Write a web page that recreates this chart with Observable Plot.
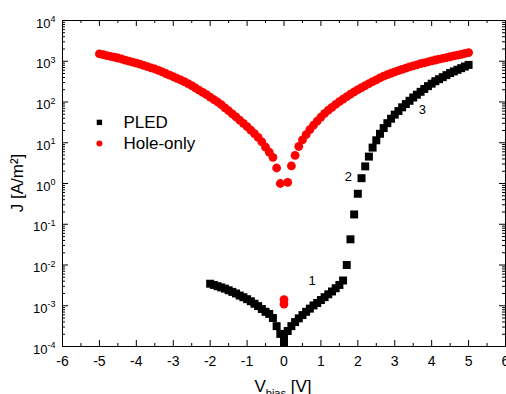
<!DOCTYPE html>
<html>
<head>
<meta charset="utf-8">
<script src="https://cdn.jsdelivr.net/npm/d3@7"></script>
<script src="https://cdn.jsdelivr.net/npm/@observablehq/plot@0.6"></script>
<style>
  html, body { margin: 0; padding: 0; background: #fff; }
  #chart { width: 506px; height: 394px; overflow: hidden; }
</style>
</head>
<body>
<div id="chart"></div>
<script>
// Current density vs bias voltage: PLED and hole-only devices

// PLED sweep, bias [V]
const pledV = [
  -2.0, -1.9, -1.8, -1.7, -1.6, -1.5, -1.4, -1.3, -1.2, -1.1,
  -1.0, -0.9, -0.8, -0.7, -0.6, -0.5, -0.4, -0.3, -0.2, -0.1,
  0.0, 0.0,
  0.1, 0.2, 0.3, 0.4, 0.5, 0.6, 0.7, 0.8, 0.9, 1.0,
  1.1, 1.2, 1.3, 1.4, 1.5, 1.6, 1.7, 1.8, 1.9, 2.0,
  2.1, 2.2, 2.3, 2.4, 2.5, 2.6, 2.7, 2.8, 2.9, 3.0,
  3.1, 3.2, 3.3, 3.4, 3.5, 3.6, 3.7, 3.8, 3.9, 4.0,
  4.1, 4.2, 4.3, 4.4, 4.5, 4.6, 4.7, 4.8, 4.9, 5.0
];
// PLED current density [A/m²]
const pledJ = [
  3.47e-3, 3.24e-3, 3.02e-3, 2.82e-3, 2.63e-3, 2.40e-3, 2.19e-3, 2.00e-3, 1.78e-3, 1.62e-3,
  1.45e-3, 1.29e-3, 1.12e-3, 9.8e-4, 8.3e-4, 7.1e-4, 6.3e-4, 5.0e-4, 3.16e-4, 2.04e-4,
  1.29e-4, 1.95e-4,
  2.40e-4, 3.16e-4, 3.98e-4, 4.9e-4, 5.9e-4, 7.1e-4, 8.5e-4, 1.02e-3, 1.17e-3, 1.38e-3,
  1.62e-3, 1.91e-3, 2.24e-3, 2.69e-3, 3.24e-3, 4.17e-3, 1.0e-2, 4.27e-2, 0.174, 0.56,
  1.35, 2.63, 4.57, 7.6, 11.5, 16.6, 22.9, 30.2, 38.9, 49,
  60, 74, 89, 107, 129, 151, 178, 209, 245, 282,
  324, 363, 407, 457, 513, 562, 617, 676, 741, 813
];

// Hole-only sweep, bias [V]
const holeV = [
  -5.0, -4.9, -4.8, -4.7, -4.6, -4.5, -4.4, -4.3, -4.2, -4.1,
  -4.0, -3.9, -3.8, -3.7, -3.6, -3.5, -3.4, -3.3, -3.2, -3.1,
  -3.0, -2.9, -2.8, -2.7, -2.6, -2.5, -2.4, -2.3, -2.2, -2.1,
  -2.0, -1.9, -1.8, -1.7, -1.6, -1.5, -1.4, -1.3, -1.2, -1.1,
  -1.0, -0.9, -0.8, -0.7, -0.6, -0.5, -0.4, -0.3, -0.2, -0.1,
  0.0, 0.0,
  0.1, 0.2, 0.3, 0.4, 0.5, 0.6, 0.7, 0.8, 0.9, 1.0,
  1.1, 1.2, 1.3, 1.4, 1.5, 1.6, 1.7, 1.8, 1.9, 2.0,
  2.1, 2.2, 2.3, 2.4, 2.5, 2.6, 2.7, 2.8, 2.9, 3.0,
  3.1, 3.2, 3.3, 3.4, 3.5, 3.6, 3.7, 3.8, 3.9, 4.0,
  4.1, 4.2, 4.3, 4.4, 4.5, 4.6, 4.7, 4.8, 4.9, 5.0
];
// Hole-only current density [A/m²]
const holeJ = [
  1510, 1450, 1380, 1320, 1260, 1200, 1135, 1070, 1010, 955,
  900, 850, 795, 740, 690, 645, 600, 550, 500, 457,
  417, 380, 347, 316, 282, 251, 221, 195, 172, 151,
  132, 115, 100, 86, 72, 61, 51, 43, 36, 30,
  25, 20.4, 16.8, 13.5, 10.5, 7.8, 5.9, 4.4, 2.4, 1.0,
  1.42e-3, 1.1e-3,
  1.07, 2.7, 4.9, 8.1, 11.7, 15.8, 20.9, 26.9, 33.9, 42.7,
  52.5, 63, 74, 87, 102, 117, 135, 155, 178, 200,
  224, 251, 282, 316, 351, 389, 432, 468, 507, 550,
  589, 631, 676, 724, 767, 813, 871, 912, 966, 1023,
  1072, 1122, 1175, 1230, 1288, 1349, 1413, 1479, 1549, 1622
];

// Axis ticks
const xTickValues = [-6, -5, -4, -3, -2, -1, 0, 1, 2, 3, 4, 5, 6];
const xMinorTicks = [-5.5, -4.5, -3.5, -2.5, -1.5, -0.5, 0.5, 1.5, 2.5, 3.5, 4.5, 5.5];
const yTickValues = [1e-4, 1e-3, 1e-2, 1e-1, 1e0, 1e1, 1e2, 1e3, 1e4];
const yTickExponents = ["-4", "-3", "-2", "-1", "0", "1", "2", "3", "4"];
const yMinorTicks = [];
for (const decade of yTickValues.slice(0, -1)) {
  for (let m = 2; m <= 9; m++) yMinorTicks.push(m * decade);
}

// Series names and curve labels
const seriesNames = ["PLED", "Hole-only"];
const curveLabels = [
  {text: "1", V: 0.76, J: 4.2e-3},
  {text: "2", V: 1.74, J: 1.47},
  {text: "3", V: 3.75, J: 63}
];

const pledRows = pledV.map((v, i) => ({V: v, J: pledJ[i]}));
const holeRows = holeV.map((v, i) => ({V: v, J: holeJ[i]}));
const legendRows = [
  {name: seriesNames[0], V: -5, J: 31.6, symbol: "square", color: "#000000", r: 3.7},
  {name: seriesNames[1], V: -5, J: 9.6, symbol: "circle", color: "#ff0000", r: 3.6}
];

const frameH = 394 - 20 - 48;
const frameW = 506 - 62 - 1;
const major = 6, minor = 3;

const plot = Plot.plot({
  width: 506,
  height: 394,
  marginTop: 20,
  marginBottom: 48,
  marginLeft: 62,
  marginRight: 1,
  style: {fontFamily: "'Liberation Sans', Arial, sans-serif", background: "#fff", color: "#000"},
  x: {type: "linear", domain: [-6, 6]},
  y: {type: "log", domain: [1e-4, 1e4]},
  marks: [
    // inward tick marks on all four sides
    Plot.ruleX(xTickValues, {insetTop: frameH - major, stroke: "#000"}),
    Plot.ruleX(xTickValues, {insetBottom: frameH - major, stroke: "#000"}),
    Plot.ruleX(xMinorTicks, {insetTop: frameH - minor, stroke: "#000"}),
    Plot.ruleX(xMinorTicks, {insetBottom: frameH - minor, stroke: "#000"}),
    Plot.ruleY(yTickValues, {insetRight: frameW - major, stroke: "#000"}),
    Plot.ruleY(yTickValues, {insetLeft: frameW - major, stroke: "#000"}),
    Plot.ruleY(yMinorTicks, {insetRight: frameW - minor, stroke: "#000"}),
    Plot.ruleY(yMinorTicks, {insetLeft: frameW - minor, stroke: "#000"}),
    Plot.frame({stroke: "#000"}),
    Plot.axisX(xTickValues, {tickSize: 0, tickPadding: 10, fontSize: 14, tickFormat: d => String(d), label: null}),
    Plot.axisY(yTickValues, {tickSize: 0, tickPadding: 7, fontSize: 13, dy: 3,
      tickFormat: (d, i) => yTickExponents[yTickValues.indexOf(d)], label: null}),
    // data
    Plot.dot(pledRows, {x: "V", y: "J", symbol: "square", r: 4.5, fill: "#000", stroke: "none"}),
    Plot.dot(holeRows, {x: "V", y: "J", symbol: "circle", r: 4.4, fill: "#ff0000", stroke: "none"}),
    // curve labels
    Plot.text(curveLabels, {x: "V", y: "J", text: "text", fontSize: 13, fill: "#000"}),
    // legend
    Plot.dot(legendRows, {x: "V", y: "J", symbol: "symbol", r: "r", fill: "color", stroke: "none"}),
    Plot.text(legendRows, {x: "V", y: "J", text: "name", dx: 24, textAnchor: "start", fontSize: 17, fill: "#000"})
  ]
});

// y tick labels as 10 with superscripted exponent
plot.querySelectorAll('[aria-label="y-axis tick label"] text').forEach(t => {
  const exp = t.textContent;
  t.textContent = "";
  const base = document.createElementNS("http://www.w3.org/2000/svg", "tspan");
  base.textContent = "10";
  const sup = document.createElementNS("http://www.w3.org/2000/svg", "tspan");
  sup.textContent = exp;
  sup.setAttribute("dy", "-5.5");
  sup.setAttribute("font-size", "9");
  t.appendChild(base);
  t.appendChild(sup);
});

const svg = d3.select(plot);
// y axis title
svg.append("text")
  .attr("transform", "translate(22.5,183) rotate(-90)")
  .attr("text-anchor", "middle")
  .attr("font-size", 17)
  .attr("fill", "#000")
  .text("J [A/m²]");
// x axis title with subscript
const xt = svg.append("text")
  .attr("x", 283)
  .attr("y", 391.5)
  .attr("text-anchor", "middle")
  .attr("font-size", 17)
  .attr("fill", "#000");
xt.append("tspan").text("V");
xt.append("tspan").attr("font-size", 11).attr("dy", 5).text("bias");
xt.append("tspan").attr("dy", -5).text(" [V]");

document.getElementById("chart").appendChild(plot);
</script>
</body>
</html>
